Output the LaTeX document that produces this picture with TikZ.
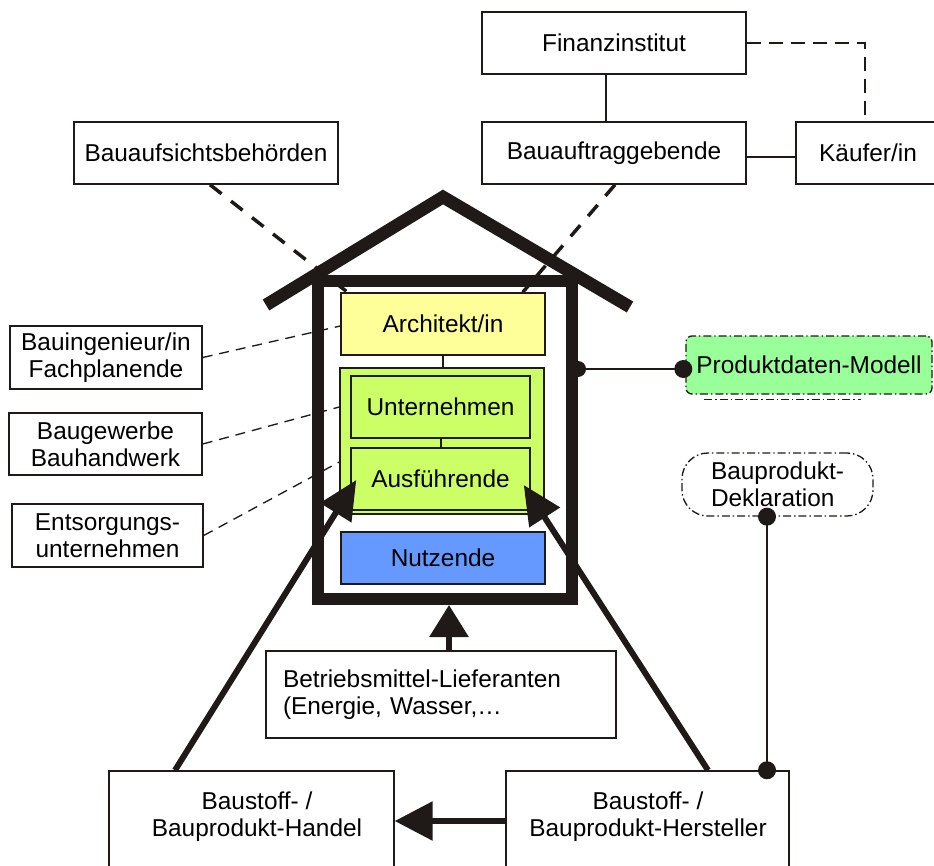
\documentclass[tikz,border=0pt]{standalone}
\usepackage{fontspec}
\setmainfont{Liberation Sans}
\usetikzlibrary{arrows.meta}
\newdimen\pxu \pxu=0.75pt
\newcommand\lbl{\fontsize{18.3pt}{20.5pt}\selectfont}
\definecolor{ink}{RGB}{31,26,23}
\definecolor{archfill}{RGB}{255,255,153}
\definecolor{firmfill}{RGB}{204,255,102}
\definecolor{userfill}{RGB}{102,153,255}
\definecolor{modelfill}{RGB}{153,255,153}
\begin{document}
\begin{tikzpicture}[x=0.75pt, y=-0.75pt,
  box/.style={draw=ink, line width=1.1pt, inner sep=0pt, align=center, font=\lbl, text=black},
  lbltext/.style={inner sep=0pt, align=center, font=\lbl, text=black},
  link/.style={draw=ink, line width=1.5pt},
  thickdash/.style={draw=ink, line width=2.6pt, dash pattern=on 11pt off 9pt},
  thindash/.style={draw=ink, line width=1pt, dash pattern=on 7.5pt off 5.2pt},
  topdash/.style={draw=ink, line width=1.5pt, dash pattern=on 10.5pt off 6pt},
  dashdot/.style={draw=ink, line width=1pt, dash pattern=on 6pt off 2.2pt on 1.1pt off 2.2pt},
  flow/.style={draw=ink, line width=4.5pt, -{Triangle[length=29pt,width=26.5pt]}},
  dot/.style={fill=ink}
]
\useasboundingbox (0,0) rectangle (934,866);
\clip (0,0) rectangle (934,866);

% --- parties outside the building ---
\node[box, minimum width=264\pxu, minimum height=62\pxu] (fin)  at (614,43)  {Finanzinstitut};
\node[box, minimum width=264\pxu, minimum height=62\pxu] (bag)  at (614,153) {Bauauftraggebende};
\node[box, minimum width=144\pxu, minimum height=62\pxu] (kauf) at (868,153) {Käufer/in};
\node[box, minimum width=264\pxu, minimum height=62\pxu] (aufs) at (206,153) {Bauaufsichtsbehörden};

\node[box, minimum width=192\pxu, minimum height=63\pxu] (ing)  at (106,357.5)   {Bauingenieur/in\\Fachplanende};
\node[box, minimum width=193\pxu, minimum height=62\pxu] (gew)  at (105.5,444)   {Baugewerbe\\Bauhandwerk};
\node[box, minimum width=191\pxu, minimum height=63\pxu] (ents) at (107.5,535.5) {Entsorgungs-\\unternehmen};

% --- the building ---
\node[draw=ink, line width=9pt, minimum width=254\pxu, minimum height=318\pxu, inner sep=0pt] (house) at (445,440) {};
\coordinate (eaveL) at (266,305);
\coordinate (ridge) at (443,197);
\coordinate (eaveR) at (630,307);
\draw[ink, line width=9.5pt, line join=miter] (eaveL) -- (ridge) -- (eaveR);

\node[box, fill=archfill, minimum width=204\pxu, minimum height=62\pxu]  (arch) at (443,324)   {Architekt/in};
\node[box, fill=firmfill, minimum width=204\pxu, minimum height=146\pxu] (grn)  at (442,441)   {};
\node[box, fill=firmfill, minimum width=179\pxu, minimum height=62\pxu]  (unt)  at (440.5,407) {Unternehmen};
\node[box, fill=firmfill, minimum width=179\pxu, minimum height=62\pxu]  (ausf) at (440.5,479) {Ausführende};
\node[box, fill=userfill, minimum width=204\pxu, minimum height=52\pxu]  (nutz) at (443,558)   {Nutzende};

% --- product data ---
\node[box, dashdot, fill=modelfill, rounded corners=6\pxu, minimum width=246\pxu, minimum height=58\pxu] (pdm) at (809,365) {Produktdaten-Modell};
\draw[dashdot] ([xshift=19\pxu,yshift=-5\pxu]pdm.south west) -- ([xshift=-72\pxu,yshift=-5\pxu]pdm.south east);
\node[box, dashdot, rounded corners=26\pxu, align=left, minimum width=191\pxu, minimum height=63\pxu] (bpd) at (777.5,484.5) {Bauprodukt-\\Deklaration};

% --- suppliers ---
\node[box, minimum width=350\pxu, minimum height=87\pxu, text width=316\pxu, align=left] (betr) at (441,694.5) {Betriebsmittel-Lieferanten\\(Energie, Wasser,…};
\node[box, minimum width=285\pxu, minimum height=100\pxu] (handel) at (251.5,821) {};
\node[lbltext] (handelT) at (257,817) {Baustoff- /\\Bauprodukt-Handel};
\node[box, minimum width=283\pxu, minimum height=100\pxu] (herst) at (647.5,821) {};
\node[lbltext] (herstT) at (648,817) {Baustoff- /\\Bauprodukt-Hersteller};

% --- connectors, top ---
\draw[link] ([xshift=-8\pxu]fin.south) -- ([xshift=-8\pxu]bag.north);
\coordinate (bagE) at ([yshift=-4\pxu]bag.east);
\draw[link] (bagE) -- (bagE -| kauf.west);
\coordinate (kaufN) at ([xshift=-3\pxu]kauf.north);
\draw[topdash] (fin.east) -| (kaufN);
\draw[thickdash] ([xshift=4\pxu]aufs.south) -- ([xshift=6\pxu,yshift=1\pxu]arch.north west);
\draw[thickdash] ([xshift=1\pxu]bag.south) -- ([xshift=-23\pxu]arch.north east);

% --- connectors, left ---
\draw[thindash] (ing.east) -- ([yshift=-2\pxu]arch.west);
\draw[thindash] (gew.east) -- (grn.west |- unt.west);
\draw[thindash] (ents.east) -- ([yshift=-21\pxu]grn.west);

% --- connectors inside ---
\draw[link] (arch.south) -- (arch.south |- grn.north);
\draw[link] (unt.south) -- (ausf.north);

% --- material flows ---
\coordinate (tipL) at ([xshift=6\pxu,yshift=-1\pxu]ausf.west);
\coordinate (tipR) at ([xshift=-7\pxu,yshift=-6\pxu]ausf.east);
\draw[flow] ([xshift=-76.5\pxu]handel.north) -- (tipL);
\draw[flow] ([xshift=60.5\pxu]herst.north) -- (tipR);
\coordinate (betrTop) at ([xshift=8\pxu]betr.north);
\draw[flow, -{Triangle[length=24pt,width=28.5pt]}] (betrTop) -- (betrTop |- house.south);
\draw[flow, -{Triangle[length=28.5pt,width=28.5pt]}] (herst.west) -- (handel.east);

% --- data links ---
\coordinate (pdmIn) at ([xshift=-2\pxu,yshift=-4\pxu]pdm.west);
\coordinate (wallR) at (house.east |- pdmIn);
\draw[link, line width=2pt] (wallR) -- (pdmIn);
\fill[dot] (wallR) circle[radius=8\pxu];
\fill[dot] (pdmIn) circle[radius=9\pxu];
\coordinate (bpdOut) at ([xshift=-10.5\pxu]bpd.south);
\coordinate (herstIn) at (bpdOut |- herst.north);
\draw[link] (bpdOut) -- (herstIn);
\fill[dot] (bpdOut) circle[radius=9\pxu];
\fill[dot] (herstIn) circle[radius=9\pxu];
\end{tikzpicture}
\end{document}
